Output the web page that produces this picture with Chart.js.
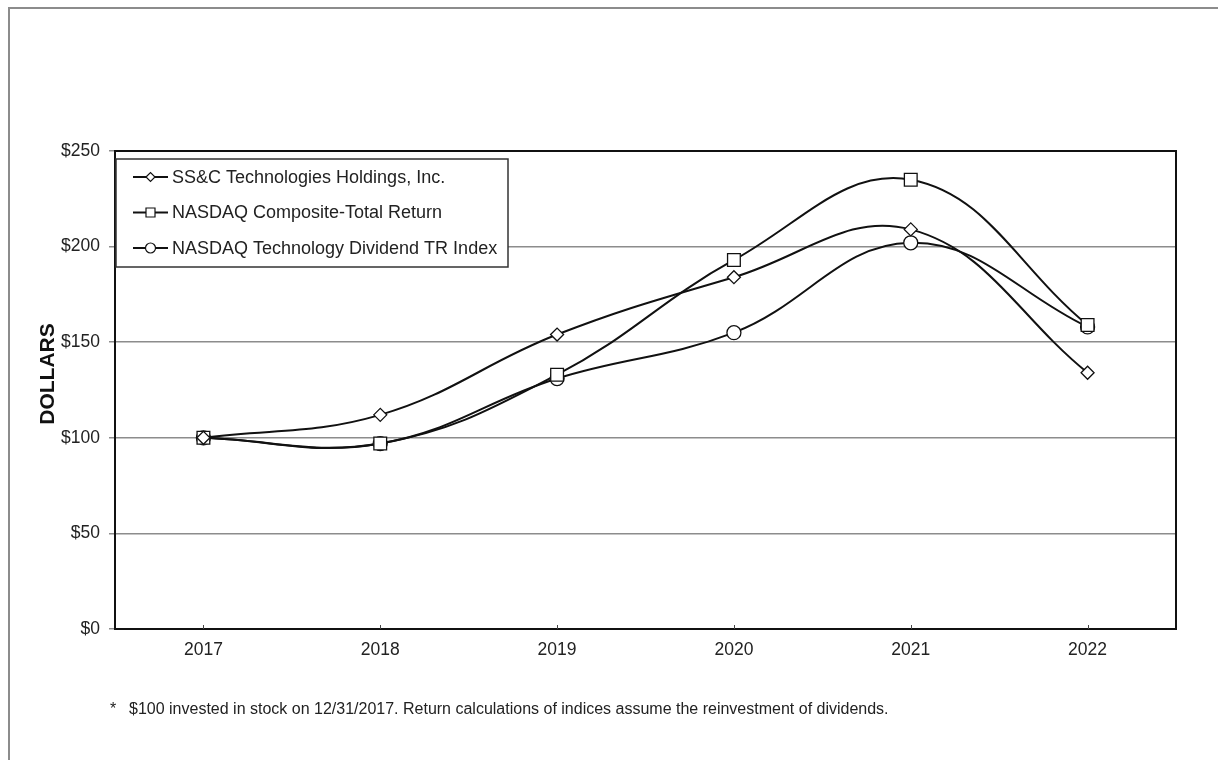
<!DOCTYPE html>
<html>
<head>
<meta charset="utf-8">
<script src="https://cdn.jsdelivr.net/npm/chart.js@4.4.1/dist/chart.umd.min.js"></script>
<style>
  body { margin: 0; background: #fff; }
  #wrap { position: relative; width: 1218px; height: 760px; overflow: hidden; }
  #frame { position: absolute; left: 8px; top: 7px; right: -4px; bottom: -4px;
           border-left: 2px solid #8c8c8c; border-top: 2px solid #8c8c8c; }
  #note { position: absolute; left: 110px; top: 700px; font: 16px "Liberation Sans", Arial, sans-serif; color: #222; }
  #note span { display: inline-block; width: 19px; }
  canvas { position: absolute; left: 0; top: 0; }
</style>
</head>
<body>
<div id="wrap">
  <div id="frame"></div>
  <canvas id="perf" width="1218" height="760"></canvas>
  <div id="note"><span>*</span>$100 invested in stock on 12/31/2017. Return calculations of indices assume the reinvestment of dividends.</div>
</div>
<script>
// values
const years = ['2017', '2018', '2019', '2020', '2021', '2022'];
const ssc = [100, 112, 154, 184, 209, 134];
const nasdaqComp = [100, 97, 133, 193, 235, 159];
const nasdaqTech = [100, 97, 131, 155, 202, 158];
const seriesNames = ['SS&C Technologies Holdings, Inc.', 'NASDAQ Composite-Total Return', 'NASDAQ Technology Dividend TR Index'];

const FONT = '"Liberation Sans", Arial, sans-serif';

function lineSet(label, data, style, radius) {
    return {
        label: label,
        data: data,
        borderColor: '#111',
        borderWidth: 2,
        tension: 0.4,
        fill: false,
        pointStyle: style,
        pointRadius: radius,
        pointBorderWidth: 1.3,
        pointBorderColor: '#111',
        pointBackgroundColor: '#fff',
    };
}

// plot box on all four sides, small inner x ticks, y title, legend box inside the plot
const extras = {
    id: 'extras',
    afterDraw(chart) {
        const ctx = chart.ctx;
        const a = chart.chartArea;
        const xs = chart.scales.x;
        ctx.save();
        ctx.strokeStyle = '#111';
        ctx.lineWidth = 2;
        ctx.strokeRect(a.left, a.top, a.right - a.left, a.bottom - a.top);

        ctx.lineWidth = 1;
        ctx.strokeStyle = '#444';
        years.forEach((y, i) => {
            const px = Math.round(xs.getPixelForValue(i)) + 0.5;
            ctx.beginPath();
            ctx.moveTo(px, a.bottom);
            ctx.lineTo(px, a.bottom - 4);
            ctx.stroke();
        });

        // axis title
        ctx.save();
        ctx.translate(48, 374);
        ctx.rotate(-Math.PI / 2);
        ctx.font = 'bold 21px ' + FONT;
        ctx.fillStyle = '#111';
        ctx.textAlign = 'center';
        ctx.textBaseline = 'middle';
        ctx.fillText('DOLLARS', 0, 0);
        ctx.restore();

        // legend
        const lx = a.left + 1, ly = 159, lw = 392, lh = 108;
        ctx.fillStyle = '#fff';
        ctx.fillRect(lx, ly, lw, lh);
        ctx.lineWidth = 1.5;
        ctx.strokeStyle = '#333';
        ctx.strokeRect(lx, ly, lw, lh);
        ctx.font = '18px ' + FONT;
        ctx.textBaseline = 'middle';
        chart.data.datasets.forEach((ds, i) => {
            const y = 177 + i * 35.5;
            ctx.strokeStyle = '#111';
            ctx.lineWidth = 2;
            ctx.beginPath();
            ctx.moveTo(133, y);
            ctx.lineTo(168, y);
            ctx.stroke();
            ctx.lineWidth = 1.2;
            ctx.fillStyle = '#fff';
            ctx.beginPath();
            if (ds.pointStyle === 'rectRot') {
                ctx.moveTo(146, y); ctx.lineTo(150.5, y - 4.5); ctx.lineTo(155, y); ctx.lineTo(150.5, y + 4.5); ctx.closePath();
            } else if (ds.pointStyle === 'rect') {
                ctx.rect(146, y - 4.5, 9, 9);
            } else {
                ctx.arc(150.5, y, 5, 0, Math.PI * 2);
            }
            ctx.fill();
            ctx.stroke();
            ctx.fillStyle = '#222';
            ctx.fillText(ds.label, 172, y + 1);
        });
        ctx.restore();
    }
};

new Chart(document.getElementById('perf'), {
    type: 'line',
    data: {
        labels: years,
        datasets: [
            lineSet(seriesNames[0], ssc, 'rectRot', 6.5),
            lineSet(seriesNames[1], nasdaqComp, 'rect', 9),
            lineSet(seriesNames[2], nasdaqTech, 'circle', 7),
        ],
    },
    options: {
        responsive: false,
        animation: false,
        devicePixelRatio: 1,
        layout: {
            padding: { top: 151, right: 42, bottom: 91, left: 0 },
        },
        plugins: {
            legend: { display: false },
            tooltip: { enabled: false },
        },
        scales: {
            x: {
                offset: true,
                grid: { display: true, drawOnChartArea: false, drawTicks: false },
                border: { display: true, color: '#111', width: 2 },
                ticks: { color: '#222', padding: 11, font: { family: FONT, size: 17.5 } },
                afterFit(scale) { scale.height = 40; },
            },
            y: {
                min: 0,
                max: 250,
                ticks: {
                    stepSize: 50,
                    color: '#222',
                    padding: 9,
                    font: { family: FONT, size: 17.5 },
                    callback: v => '$' + v,
                },
                grid: { color: '#8c8c8c', lineWidth: 1.5, tickLength: 6 },
                border: { display: true, color: '#111', width: 2 },
                afterFit(scale) { scale.width = 115; },
            },
        },
    },
    plugins: [extras],
});
</script>
</body>
</html>
